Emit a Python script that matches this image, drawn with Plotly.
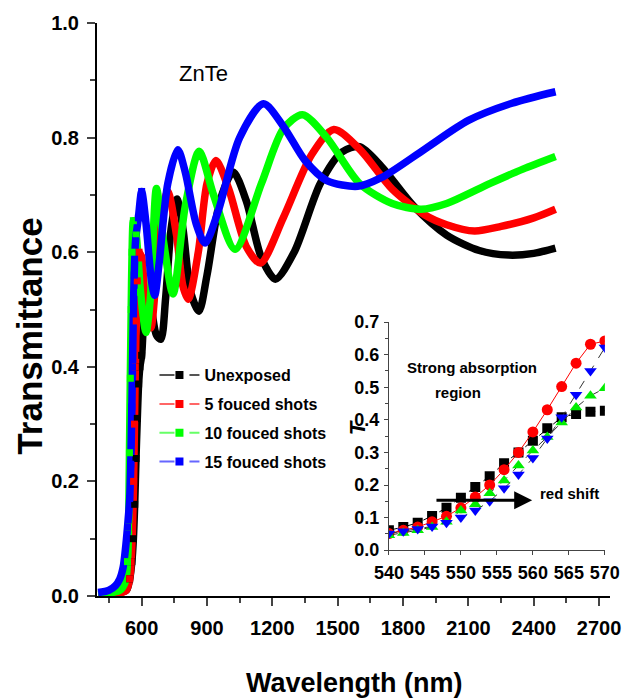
import plotly.graph_objects as go

# ---------------- main-panel data ----------------
wl_black = [400, 450, 500, 530, 545, 555, 562, 568, 574, 580, 586, 592, 600, 612, 625, 645, 668, 688,
            710, 735, 762, 790, 825, 863, 900, 960, 1020, 1080, 1150, 1214, 1300, 1420, 1520, 1600,
            1700, 1850, 2000, 2150, 2285, 2400, 2500]
T_black = [0.003, 0.004, 0.006, 0.01, 0.03, 0.06, 0.1, 0.16, 0.24, 0.31, 0.37, 0.40, 0.42, 0.5, 0.53,
           0.5, 0.455, 0.448, 0.52, 0.64, 0.693, 0.64, 0.53, 0.497, 0.56, 0.69, 0.74, 0.69, 0.59, 0.553,
           0.6, 0.72, 0.775, 0.784, 0.75, 0.68, 0.63, 0.603, 0.595, 0.598, 0.607]

wl_red = [400, 450, 500, 530, 545, 552, 558, 563, 567, 571, 575, 580, 588, 600, 620, 642, 665, 690, 720,
          760, 790, 814, 860, 900, 941, 1000, 1080, 1145, 1250, 1380, 1482, 1600, 1750, 1900, 2000,
          2128, 2250, 2400, 2500]
T_red = [0.002, 0.003, 0.005, 0.01, 0.03, 0.06, 0.12, 0.2, 0.3, 0.4, 0.48, 0.55, 0.6, 0.59, 0.5, 0.468,
         0.55, 0.66, 0.706, 0.63, 0.54, 0.518, 0.6, 0.72, 0.76, 0.71, 0.61, 0.581, 0.66, 0.77, 0.814,
         0.78, 0.71, 0.665, 0.648, 0.637, 0.645, 0.66, 0.675]

wl_green = [400, 450, 500, 525, 535, 540, 544, 548, 552, 556, 562, 575, 595, 620, 640, 668, 700, 744,
            800, 864, 930, 1029, 1150, 1250, 1338, 1450, 1600, 1750, 1883, 2000, 2200, 2350, 2500]
T_green = [0.003, 0.005, 0.01, 0.025, 0.06, 0.12, 0.25, 0.38, 0.5, 0.6, 0.655, 0.63, 0.53, 0.46, 0.52,
           0.711, 0.62, 0.527, 0.68, 0.776, 0.7, 0.605, 0.72, 0.815, 0.84, 0.8, 0.72, 0.685, 0.675,
           0.685, 0.72, 0.745, 0.767]

wl_blue = [400, 450, 480, 500, 515, 525, 535, 545, 550, 555, 558, 562, 566, 572, 585, 600, 620, 645,
           660, 680, 720, 766, 800, 850, 891, 950, 1050, 1159, 1250, 1350, 1450, 1592, 1700, 1900,
           2100, 2300, 2500]
T_blue = [0.006, 0.01, 0.018, 0.03, 0.05, 0.08, 0.12, 0.17, 0.23, 0.33, 0.4, 0.5, 0.56, 0.62, 0.66,
          0.706, 0.65, 0.55, 0.525, 0.58, 0.72, 0.779, 0.74, 0.65, 0.616, 0.67, 0.8, 0.859, 0.82, 0.76,
          0.725, 0.715, 0.73, 0.78, 0.83, 0.86, 0.88]

labels = ["Unexposed", "5 fouced shots", "10 fouced shots", "15 fouced shots"]
colors = ["#000000", "#ff0000", "#00ff00", "#0000ff"]
legend_line_colors = ["#555555", "#ff6666", "#66ff66", "#6666ff"]

# ---------------- inset data ----------------
inset_wl = [540, 542, 544, 546, 548, 550, 552, 554, 556, 558, 560, 562, 564, 566, 568, 570]
inset_black = [0.061, 0.071, 0.084, 0.105, 0.13, 0.161, 0.194, 0.227, 0.267, 0.30, 0.336, 0.374, 0.408, 0.418, 0.425, 0.428]
inset_red = [0.051, 0.061, 0.071, 0.087, 0.104, 0.13, 0.163, 0.20, 0.247, 0.30, 0.363, 0.431, 0.502, 0.574, 0.632, 0.642]
inset_green = [0.046, 0.053, 0.061, 0.071, 0.087, 0.122, 0.141, 0.175, 0.214, 0.26, 0.306, 0.347, 0.392, 0.438, 0.474, 0.497]
inset_blue = [0.051, 0.058, 0.065, 0.073, 0.084, 0.10, 0.122, 0.15, 0.19, 0.232, 0.283, 0.343, 0.408, 0.477, 0.55, 0.622]

SANS = "Liberation Sans, Arial"

fig = go.Figure()

main_sets = [(wl_black, T_black), (wl_red, T_red), (wl_green, T_green), (wl_blue, T_blue)]
for (wl, T), c in zip(main_sets, colors):
    fig.add_trace(go.Scatter(x=wl, y=T, mode="lines", line=dict(color=c, width=7.5, shape="spline", smoothing=0.8),
                             showlegend=False, hoverinfo="skip", xaxis="x", yaxis="y"))
for (wl, T), c in zip(main_sets, colors):
    ex = [w for w in wl if 535 <= w <= 600]
    ey = [t for w, t in zip(wl, T) if 535 <= w <= 600]
    fig.add_trace(go.Scatter(x=ex, y=ey, mode="markers", marker=dict(symbol="square", size=7, color=c),
                             showlegend=False, hoverinfo="skip", xaxis="x", yaxis="y"))

# legend entries
for i, (lab, c, lc) in enumerate(zip(labels, colors, legend_line_colors)):
    fig.add_trace(go.Scatter(x=[None], y=[None], mode="lines+markers", name=lab, legendgroup=str(i),
                             line=dict(color=lc, width=2, dash="longdash"),
                             marker=dict(symbol="square", size=8, color=c), xaxis="x", yaxis="y"))

# inset
inset_specs = [
    (inset_black, "square", "#000000", "#000000", "dash", 10),
    (inset_red, "circle", "#ff0000", "#ff0000", "solid", 11),
    (inset_green, "triangle-up", "#00ee00", "#333333", "dash", 11),
    (inset_blue, "triangle-down", "#0000ff", "#333333", "dash", 11),
]
for ys, sym, mc, lc, dash, sz in inset_specs:
    fig.add_trace(go.Scatter(x=inset_wl, y=ys, mode="lines+markers", showlegend=False, hoverinfo="skip",
                             line=dict(color=lc, width=1, dash=dash),
                             marker=dict(symbol=sym, size=sz, color=mc),
                             xaxis="x2", yaxis="y2"))

bold = lambda s: dict(family=SANS, size=s, color="black", weight="bold")

fig.update_layout(
    width=639, height=700,
    margin=dict(l=97, r=29, t=21, b=104),
    plot_bgcolor="white", paper_bgcolor="white",
    showlegend=True,
    legend=dict(x=0.112, y=0.415, xanchor="left", yanchor="top", bgcolor="rgba(0,0,0,0)",
                font=bold(16), itemwidth=40, tracegroupgap=5, traceorder="grouped"),
    xaxis=dict(domain=[0, 1], range=[395, 2750], tick0=600, dtick=300, ticks="outside", ticklen=8,
               tickwidth=1.5, showline=True, linecolor="black", linewidth=2, showgrid=False, zeroline=False,
               tickfont=bold(20), ticklabelstandoff=5,
               minor=dict(dtick=150, tick0=450, ticks="outside", ticklen=5, tickwidth=1.5, showgrid=False)),
    yaxis=dict(domain=[0, 1], range=[0, 1.0], dtick=0.2, tickformat=".1f", ticks="outside", ticklen=8,
               tickwidth=1.5, showline=True, linecolor="black", linewidth=2, showgrid=False, zeroline=False,
               tickfont=bold(20), ticklabelstandoff=4,
               minor=dict(dtick=0.1, ticks="outside", ticklen=5, tickwidth=1.5, showgrid=False)),
    xaxis2=dict(domain=[0.569, 0.990], anchor="y2", range=[540, 570], dtick=5, ticks="outside", ticklen=4,
                tickwidth=1, showline=True, linecolor="#444444", linewidth=1, showgrid=False, zeroline=False,
                tickfont=bold(18), ticklabelstandoff=2, tickangle=0),
    yaxis2=dict(domain=[0.080, 0.478], anchor="x2", range=[0, 0.7], dtick=0.1, tickformat=".1f",
                ticks="outside", ticklen=4, tickwidth=1, showline=True, linecolor="#444444", linewidth=1,
                showgrid=False, zeroline=False, tickfont=bold(18), ticklabelstandoff=1,
                minor=dict(dtick=0.05, ticks="outside", ticklen=3, tickwidth=1, showgrid=False)),
)

fig.add_annotation(text="Transmittance", xref="paper", yref="paper", x=-0.131, y=0.454, textangle=-90,
                   xanchor="center", yanchor="middle", showarrow=False, font=bold(35))
fig.add_annotation(text="Wavelength (nm)", xref="paper", yref="paper", x=0.501, y=-0.151,
                   xanchor="center", yanchor="middle", showarrow=False, font=bold(27))
fig.add_annotation(text="ZnTe", xref="paper", yref="paper", x=0.207, y=0.911, xanchor="center",
                   yanchor="middle", showarrow=False, font=dict(family=SANS, size=22, color="black"))
fig.add_annotation(text="Strong absorption", xref="x2", yref="y2", x=551.5, y=0.562, showarrow=False,
                   xanchor="center", yanchor="middle", font=bold(15))
fig.add_annotation(text="region", xref="x2", yref="y2", x=549.6, y=0.483, showarrow=False,
                   xanchor="center", yanchor="middle", font=bold(15))
fig.add_annotation(text="red shift", xref="x2", yref="y2", x=565.1, y=0.174, showarrow=False,
                   xanchor="center", yanchor="middle", font=bold(15))
fig.add_annotation(x=559.9, y=0.153, ax=546.4, ay=0.153, xref="x2", yref="y2", axref="x2", ayref="y2",
                   text="", showarrow=True, arrowhead=2, arrowsize=1.2, arrowwidth=3, arrowcolor="black")
fig.add_annotation(text="<i>T</i>", xref="paper", yref="paper", x=0.508, y=0.294, textangle=-90,
                   xanchor="center", yanchor="middle", showarrow=False, font=bold(22))

fig.write_html("out.html")
